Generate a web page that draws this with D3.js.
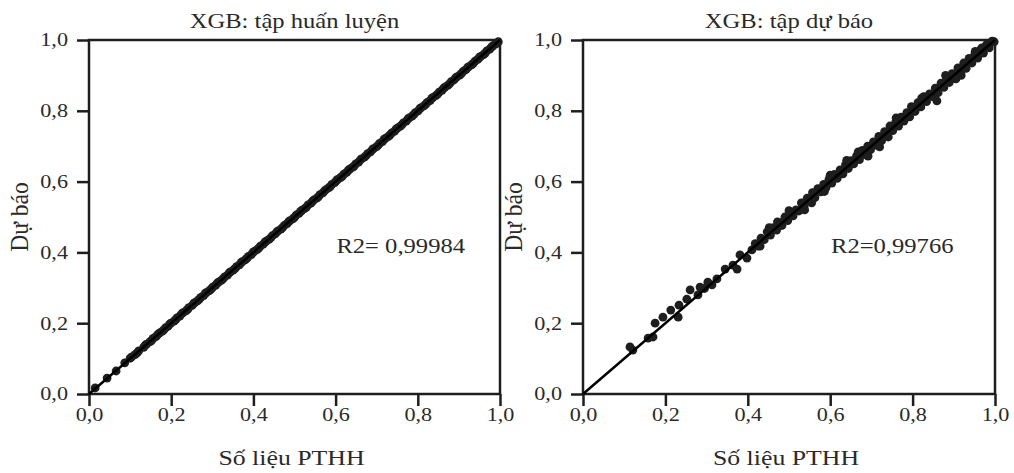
<!DOCTYPE html>
<html>
<head>
<meta charset="utf-8">
<script src="https://cdn.jsdelivr.net/npm/d3@7"></script>
<style>
  body { margin: 0; background: #fff; }
  svg { display: block; font-family: "Liberation Serif", "DejaVu Serif", serif; }
</style>
</head>
<body>
<div id="chart"></div>
<script>
// ---- data ----
const ticks = [0, 0.2, 0.4, 0.6, 0.8, 1.0];
const fitLine = [0, 1];

const trainActual = [0.015, 0.044, 0.066, 0.087, 0.100, 0.112, 0.121, 0.133, 0.140, 0.148, 0.156, 0.163, 0.171, 0.178, 0.186,
  0.192, 0.199, 0.207, 0.214, 0.221, 0.229, 0.236, 0.243, 0.251, 0.258, 0.264, 0.272, 0.279, 0.286, 0.293, 0.301, 0.308,
  0.315, 0.322, 0.330, 0.337, 0.344, 0.351, 0.359, 0.366, 0.373, 0.380, 0.388, 0.395, 0.402, 0.409, 0.417, 0.424, 0.431,
  0.438, 0.446, 0.453, 0.460, 0.467, 0.475, 0.482, 0.489, 0.496, 0.504, 0.511, 0.518, 0.525, 0.533, 0.540, 0.547, 0.554,
  0.562, 0.569, 0.576, 0.583, 0.591, 0.598, 0.605, 0.612, 0.620, 0.627, 0.634, 0.641, 0.649, 0.656, 0.663, 0.670, 0.678,
  0.685, 0.692, 0.699, 0.707, 0.714, 0.721, 0.728, 0.736, 0.743, 0.750, 0.757, 0.765, 0.772, 0.779, 0.786, 0.794, 0.801,
  0.808, 0.815, 0.823, 0.830, 0.837, 0.844, 0.852, 0.859, 0.866, 0.873, 0.881, 0.888, 0.895, 0.902, 0.910, 0.917, 0.924,
  0.931, 0.939, 0.946, 0.953, 0.960, 0.968, 0.975, 0.982, 0.989, 0.996,
  0.104, 0.117, 0.137, 0.152, 0.167, 0.182, 0.196, 0.211, 0.225, 0.240, 0.255, 0.268, 0.283, 0.297, 0.312, 0.326, 0.341,
  0.355, 0.370, 0.384, 0.399, 0.413, 0.428, 0.442, 0.457, 0.471, 0.486, 0.500, 0.515, 0.529, 0.544, 0.558, 0.573, 0.587,
  0.602, 0.616, 0.631, 0.645, 0.660, 0.674, 0.689, 0.703, 0.718, 0.732, 0.747, 0.761, 0.776, 0.790, 0.805, 0.819, 0.834,
  0.848, 0.863, 0.877, 0.892, 0.906, 0.921, 0.935, 0.950, 0.964, 0.979, 0.993];
const trainPred = [0.017, 0.045, 0.065, 0.088, 0.101, 0.111, 0.122, 0.132, 0.141, 0.147, 0.157, 0.162, 0.172, 0.177, 0.187,
  0.191, 0.200, 0.206, 0.215, 0.220, 0.230, 0.235, 0.244, 0.250, 0.259, 0.263, 0.273, 0.278, 0.287, 0.292, 0.302, 0.307,
  0.316, 0.321, 0.331, 0.336, 0.345, 0.350, 0.360, 0.365, 0.374, 0.379, 0.389, 0.394, 0.403, 0.408, 0.418, 0.423, 0.432,
  0.437, 0.447, 0.452, 0.461, 0.466, 0.476, 0.481, 0.490, 0.495, 0.505, 0.510, 0.519, 0.524, 0.534, 0.539, 0.548, 0.553,
  0.563, 0.568, 0.577, 0.582, 0.592, 0.597, 0.606, 0.611, 0.621, 0.626, 0.635, 0.640, 0.650, 0.655, 0.664, 0.669, 0.679,
  0.684, 0.693, 0.698, 0.708, 0.713, 0.722, 0.727, 0.737, 0.742, 0.751, 0.756, 0.766, 0.771, 0.780, 0.785, 0.795, 0.800,
  0.809, 0.814, 0.824, 0.829, 0.838, 0.843, 0.853, 0.858, 0.867, 0.872, 0.882, 0.887, 0.896, 0.901, 0.911, 0.916, 0.925,
  0.930, 0.940, 0.945, 0.954, 0.959, 0.969, 0.974, 0.983, 0.988, 0.995,
  0.105, 0.116, 0.138, 0.151, 0.168, 0.181, 0.197, 0.210, 0.226, 0.239, 0.256, 0.267, 0.284, 0.296, 0.313, 0.325, 0.342,
  0.354, 0.371, 0.383, 0.400, 0.412, 0.429, 0.441, 0.458, 0.470, 0.487, 0.499, 0.516, 0.528, 0.545, 0.557, 0.574, 0.586,
  0.603, 0.615, 0.632, 0.644, 0.661, 0.673, 0.690, 0.702, 0.719, 0.731, 0.748, 0.760, 0.777, 0.789, 0.806, 0.818, 0.835,
  0.847, 0.864, 0.876, 0.893, 0.905, 0.922, 0.934, 0.951, 0.963, 0.980, 0.992];

const testActual = [0.114, 0.121, 0.158, 0.170, 0.175, 0.194, 0.213, 0.231, 0.233, 0.252, 0.260, 0.279, 0.284, 0.295, 0.303,
  0.313, 0.325, 0.345, 0.364, 0.374, 0.381, 0.398, 0.410, 0.418, 0.425, 0.432, 0.440, 0.447, 0.455, 0.462, 0.470, 0.476,
  0.483, 0.490, 0.497, 0.503, 0.510, 0.517, 0.524, 0.530, 0.537, 0.544, 0.551, 0.557, 0.563, 0.570, 0.577, 0.584, 0.590,
  0.597, 0.604, 0.610, 0.617, 0.624, 0.631, 0.637, 0.644, 0.651, 0.657, 0.664, 0.671, 0.678, 0.684, 0.691, 0.698, 0.705,
  0.711, 0.718, 0.725, 0.732, 0.738, 0.745, 0.752, 0.759, 0.766, 0.772, 0.779, 0.786, 0.793, 0.800, 0.806, 0.813, 0.820,
  0.827, 0.834, 0.841, 0.848, 0.855, 0.862, 0.869, 0.876, 0.883, 0.889, 0.896, 0.903, 0.910, 0.917, 0.924, 0.930, 0.937,
  0.944, 0.951, 0.958, 0.965, 0.972, 0.979, 0.986, 0.993, 0.998,
  0.430, 0.452, 0.500, 0.538, 0.555, 0.600, 0.640, 0.692, 0.720, 0.760, 0.822, 0.859, 0.880, 0.918, 0.952, 0.472, 0.586,
  0.668, 0.741, 0.797, 0.905, 0.968];
const testPred = [0.133, 0.124, 0.158, 0.161, 0.200, 0.217, 0.237, 0.217, 0.251, 0.268, 0.294, 0.280, 0.302, 0.298, 0.316,
  0.308, 0.325, 0.353, 0.364, 0.353, 0.393, 0.384, 0.407, 0.425, 0.418, 0.440, 0.436, 0.458, 0.449, 0.470, 0.463, 0.484,
  0.476, 0.500, 0.490, 0.513, 0.503, 0.520, 0.517, 0.540, 0.531, 0.553, 0.545, 0.569, 0.555, 0.580, 0.571, 0.592, 0.583,
  0.606, 0.596, 0.620, 0.609, 0.633, 0.622, 0.647, 0.637, 0.659, 0.650, 0.673, 0.662, 0.688, 0.676, 0.700, 0.690, 0.712,
  0.703, 0.728, 0.716, 0.741, 0.730, 0.757, 0.744, 0.768, 0.757, 0.782, 0.771, 0.795, 0.783, 0.808, 0.798, 0.823, 0.811,
  0.840, 0.826, 0.848, 0.840, 0.864, 0.851, 0.878, 0.866, 0.892, 0.880, 0.905, 0.893, 0.921, 0.906, 0.935, 0.920, 0.948,
  0.935, 0.960, 0.949, 0.972, 0.963, 0.986, 0.978, 0.997, 0.995,
  0.418, 0.470, 0.518, 0.520, 0.540, 0.618, 0.660, 0.672, 0.698, 0.780, 0.836, 0.828, 0.900, 0.900, 0.968, 0.486, 0.572,
  0.684, 0.726, 0.812, 0.890, 0.978];

const panelTitles = ['XGB: tập huấn luyện', 'XGB: tập dự báo'];
const r2Labels = ['R2= 0,99984', 'R2=0,99766'];
const xTitle = 'Số liệu PTHH';
const yTitle = 'Dự báo';

// ---- layout ----
const width = 1014;
const height = 473;
const sx = 1.2; // text in the picture is stretched horizontally
const ink = '#1e1e1e';
const textInk = '#2a2a2a';

const panels = [
  { left: 89, right: 500, actual: trainActual, pred: trainPred },
  { left: 583, right: 995, actual: testActual, pred: testPred },
];
const plotTop = 40;
const plotBottom = 394;

const vn = d3.formatLocale({ decimal: ',', thousands: '.', grouping: [3], currency: ['', ''] });
const fmt = vn.format('.1f');

const svg = d3.select('#chart')
  .append('svg')
  .attr('width', width)
  .attr('height', height);

panels.forEach((p, i) => {
  const x = d3.scaleLinear().domain([0, 1]).range([p.left, p.right]);
  const y = d3.scaleLinear().domain([0, 1]).range([plotBottom, plotTop]);
  const cx = (p.left + p.right) / 2;

  const g = svg.append('g');

  // axes
  const yAxis = g.append('g')
    .attr('transform', `translate(${p.left},0)`)
    .call(d3.axisLeft(y).tickValues(ticks).tickSize(12).tickFormat(fmt));
  const xAxis = g.append('g')
    .attr('transform', `translate(0,${plotBottom})`)
    .call(d3.axisBottom(x).tickValues(ticks).tickSize(12).tickFormat(fmt));

  [xAxis, yAxis].forEach((a) => {
    a.select('.domain').remove();
    a.selectAll('.tick line').attr('stroke', ink).attr('stroke-width', 2.5);
    a.selectAll('.tick text')
      .attr('fill', textInk)
      .style('font-family', '"Liberation Serif", serif')
      .style('font-size', '18.5px');
  });
  yAxis.selectAll('.tick text').attr('x', -21 / sx).attr('transform', `scale(${sx},1)`);
  xAxis.selectAll('.tick text').attr('y', 14).attr('transform', `scale(${sx},1)`);

  // frame
  g.append('rect')
    .attr('x', x(0))
    .attr('y', y(1))
    .attr('width', x(1) - x(0))
    .attr('height', y(0) - y(1))
    .attr('fill', 'none')
    .attr('stroke', ink)
    .attr('stroke-width', 2.5);

  // points
  g.append('g')
    .selectAll('circle')
    .data(p.actual.map((v, k) => [v, p.pred[k]]))
    .enter()
    .append('circle')
    .attr('cx', (d) => x(d[0]))
    .attr('cy', (d) => y(d[1]))
    .attr('r', 4.4)
    .attr('fill', ink);

  // 1:1 line
  g.append('path')
    .datum(fitLine)
    .attr('d', d3.line().x((d) => x(d)).y((d) => y(d)))
    .attr('stroke', '#000')
    .attr('stroke-width', 2.5)
    .attr('fill', 'none');

  // Title
  g.append('text')
    .attr('transform', `translate(${cx},28) scale(${sx},1)`)
    .style('text-anchor', 'middle')
    .style('font-size', '20.5px')
    .attr('fill', textInk)
    .text(panelTitles[i]);

  // x title
  g.append('text')
    .attr('transform', `translate(${cx - 3},465) scale(${sx},1)`)
    .style('text-anchor', 'middle')
    .style('font-size', '21.5px')
    .attr('fill', textInk)
    .text(xTitle);

  // y title
  g.append('text')
    .attr('transform', `translate(${p.left - 61},${(plotTop + plotBottom) / 2}) rotate(-90) scale(1.15,1.2)`)
    .style('text-anchor', 'middle')
    .style('font-size', '20.5px')
    .attr('fill', textInk)
    .text(yTitle);

  // R2
  g.append('text')
    .attr('transform', `translate(${x(0.602)},253) scale(${sx},1)`)
    .style('font-size', '20.5px')
    .attr('fill', textInk)
    .text(r2Labels[i]);
});
</script>
</body>
</html>
